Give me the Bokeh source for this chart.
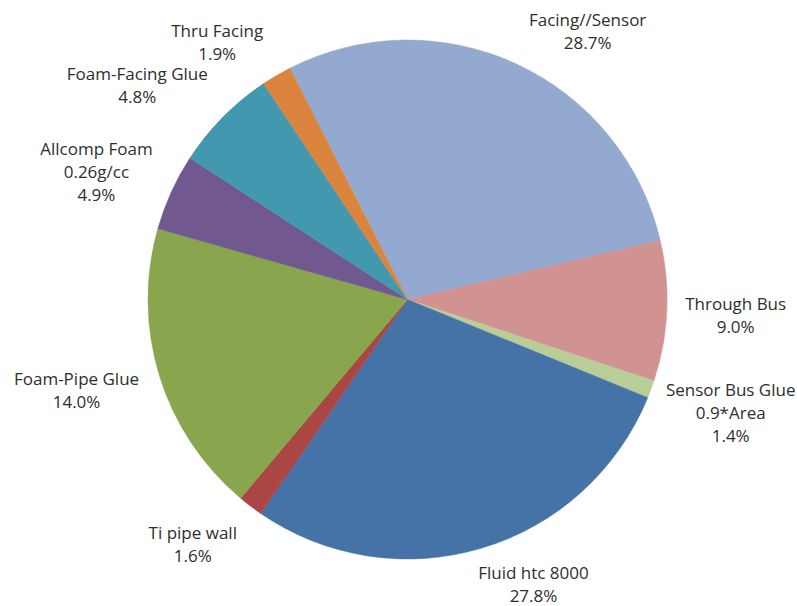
import math
from bokeh.plotting import figure
from bokeh.models import Range1d, ColumnDataSource
from bokeh.embed import file_html
from bokeh.resources import INLINE
from bokeh.core.properties import value

# ---- data ----
categories = ["Facing//Sensor", "Through Bus", "Sensor Bus Glue\n0.9*Area",
              "Fluid htc 8000", "Ti pipe wall", "Foam-Pipe Glue",
              "Allcomp Foam\n0.26g/cc", "Foam-Facing Glue", "Thru Facing"]
# slice sizes (percent) as drawn
shares = [28.83, 8.74, 1.1, 28.4, 1.55, 18.29, 4.77, 6.47, 1.87]
# data-label percentages as printed on the chart
label_pcts = ["28.7%", "9.0%", "1.4%", "27.8%", "1.6%", "14.0%", "4.9%", "4.8%", "1.9%"]

# ---- styling ----
colors = ["#93A9CF", "#D19392", "#B9CD96", "#4572A7", "#AA4643",
          "#89A54E", "#71588F", "#4198AF", "#DB843D"]
label_rfac = [1.247, 1.266, 1.320, 1.200, 1.253, 1.322, 1.297, 1.330, 1.235]
label_nudge = [8.9, 0.2, -0.9, -7.2, 4.1, 1.8, -2.0, -6.2, -6.1]

W, H = 797, 606
cx, cy, R = 407.0, H - 299.0, 259.5
start_deg = -26.96  # clockwise from 12 o'clock

total = sum(shares)
starts, ends, lx, ly, texts = [], [], [], [], []
acc = start_deg
for i, s in enumerate(shares):
    span = 360.0 * s / total
    t1, t2 = acc, acc + span
    acc = t2
    # bokeh angles: counter-clockwise from +x
    starts.append(math.radians(90 - t2))
    ends.append(math.radians(90 - t1))
    mid = (t1 + t2) / 2 + label_nudge[i]
    r = R * label_rfac[i]
    lx.append(cx + r * math.sin(math.radians(mid)))
    ly.append(cy + r * math.cos(math.radians(mid)))
    texts.append(categories[i] + "\n" + label_pcts[i])

src = ColumnDataSource(dict(start=starts, end=ends, color=colors,
                            lx=lx, ly=ly, text=texts))

p = figure(width=W, height=H, x_range=Range1d(0, W), y_range=Range1d(0, H),
           output_backend="svg", toolbar_location=None, min_border=0,
           match_aspect=False)
p.axis.visible = False
p.grid.visible = False
p.outline_line_color = None
p.background_fill_color = "white"
p.border_fill_color = "white"

p.wedge(x=cx, y=cy, radius=R, start_angle="start", end_angle="end",
        fill_color="color", line_color="color", line_width=0.5, source=src)

p.text(x="lx", y="ly", text="text", source=src,
       text_font=value("Open Sans"), text_font_size="17px",
       text_color="#2e2e2e", text_align="center", text_baseline="middle",
       text_line_height=1.0)

open("out.html", "w").write(file_html(p, INLINE))
